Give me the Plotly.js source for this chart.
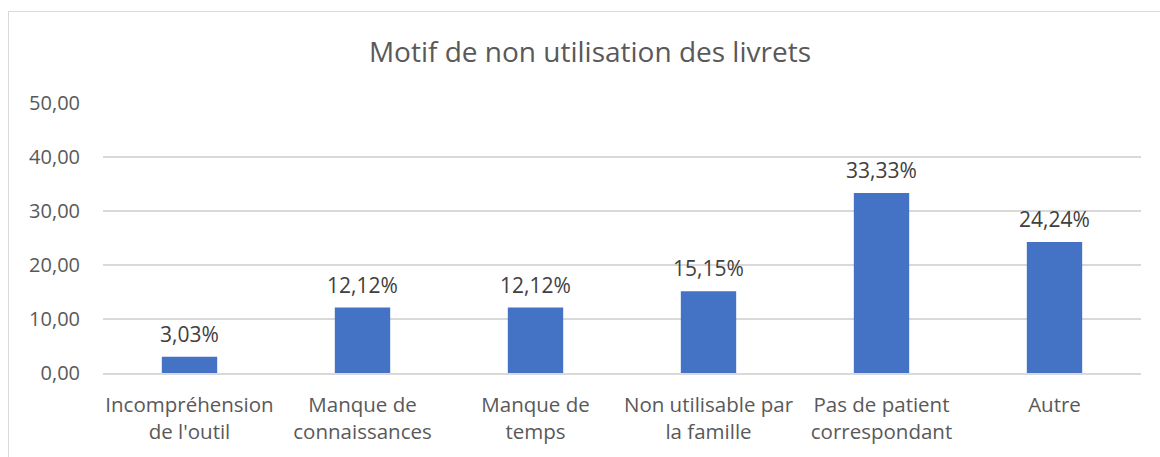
<!DOCTYPE html>
<html><head><meta charset="utf-8">
<script src="https://cdn.plot.ly/plotly-3.0.1.min.js"></script>
<style>
html,body{margin:0;padding:0;background:#fff;}
#wrap{position:relative;width:1160px;height:457px;overflow:hidden;}
#frame{position:absolute;left:8px;top:11px;width:1200px;height:500px;border:1px solid #d9d9d9;box-sizing:border-box;}
#chart{position:absolute;left:0;top:0;width:1160px;height:457px;}
</style></head>
<body><div id="wrap"><div id="frame"></div><div id="chart"></div></div>
<script>
const categories = ["Incompréhension<br>de l'outil","Manque de<br>connaissances","Manque de<br>temps","Non utilisable par<br>la famille","Pas de patient<br>correspondant","Autre"];
const values = [3.03, 12.12, 12.12, 15.15, 33.33, 24.24];
const labels = values.map(v => v.toFixed(2).replace('.', ',') + '%');
const font = "'Open Sans', sans-serif";
const annotations = categories.map((c, i) => ({
  x: c, y: values[i], xref:'x', yref:'y', text: labels[i], showarrow:false,
  yanchor:'bottom', yshift:7,
  font:{family:font,size:21,color:'#404040'}
}));
Plotly.newPlot('chart', [{
  type:'bar', x:categories, y:values,
  marker:{color:'#4472c4'}, hoverinfo:'none'
}], {
  width:1160, height:457,
  margin:{l:103,r:19,t:103,b:84},
  paper_bgcolor:'rgba(0,0,0,0)', plot_bgcolor:'rgba(0,0,0,0)',
  separators:',.',
  bargap:0.68,
  annotations: annotations,
  title:{text:'Motif de non utilisation des livrets', font:{family:font,size:28,color:'#595959'}, x:0.5086, xanchor:'center', y:0.885, yanchor:'middle'},
  xaxis:{tickfont:{family:font,size:20.5,color:'#595959'}, showline:true, linecolor:'#d9d9d9', linewidth:1.5, ticks:'', ticklabelstandoff:13, fixedrange:true},
  yaxis:{range:[0,50], dtick:10, tickformat:'.2f', tickfont:{family:font,size:20,color:'#595959'}, gridcolor:'#d9d9d9', gridwidth:1.5, zeroline:false, ticks:'', ticklabelstandoff:22, fixedrange:true},
  showlegend:false
}, {displayModeBar:false, staticPlot:true});
</script></body></html>
